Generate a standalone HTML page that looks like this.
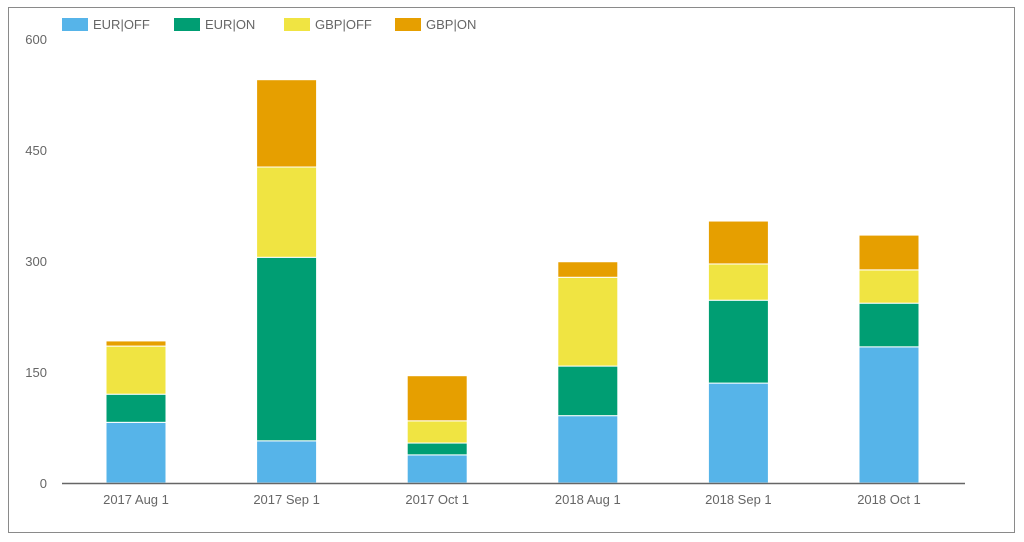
<!DOCTYPE html>
<html><head><meta charset="utf-8"><style>
body{margin:0;background:#fff;width:1024px;height:542px;overflow:hidden;font-family:"Liberation Sans",sans-serif}
#frame{position:absolute;left:8px;top:7px;width:1007px;height:526px;border:1px solid #8a8a8a;box-sizing:border-box}
</style></head><body>
<div id="frame"></div>
<svg id="chart" width="1024" height="542" style="position:absolute;left:0;top:0"></svg>
<script>
const categories=["2017 Aug 1","2017 Sep 1","2017 Oct 1","2018 Aug 1","2018 Sep 1","2018 Oct 1"];
const seriesNames=["EUR|OFF","EUR|ON","GBP|OFF","GBP|ON"];
const eurOff=[82,57,38,91,135,184];
const eurOn=[38,248,16,67,112,59];
const gbpOff=[65,122,30,120,49,45];
const gbpOn=[7,118,61,21,58,47];
const yTicks=[0,150,300,450,600];
const colors=["#56b4e9","#009e73","#f0e442","#e69f00"];
const svg=document.getElementById('chart');
const NS="http://www.w3.org/2000/svg";
const y=v=>483-v*(444/600);
const x=i=>136+i*150.6;
const bw=60;
function mk(t,a,p){const e=document.createElementNS(NS,t);for(const k in a)e.setAttribute(k,a[k]);(p||svg).appendChild(e);return e;}
yTicks.forEach(t=>{const e=mk('text',{x:47,y:y(t)+5,'text-anchor':'end','font-size':13,fill:'#666'});e.textContent=t;

});
const series=[eurOff,eurOn,gbpOff,gbpOn];
categories.forEach((c,i)=>{let base=0;series.forEach((s,j)=>{const r=mk('rect',{x:x(i)-bw/2,y:y(base+s[i]),width:bw,height:y(base)-y(base+s[i]),fill:colors[j],stroke:'#fff','stroke-width':1});


base+=s[i];});
const t=mk('text',{x:x(i),y:504,'text-anchor':'middle','font-size':13,fill:'#666'});t.textContent=c;

});
const ax=mk('line',{x1:62,x2:965,y1:483.5,y2:483.5,stroke:'#666','stroke-width':1.5});


const lx=[62,174,284,395];
seriesNames.forEach((n,j)=>{const g=mk('g',{});


mk('rect',{x:lx[j],y:18,width:26,height:13,fill:colors[j]},g);
const t=mk('text',{x:lx[j]+31,y:29,'font-size':13,fill:'#666'},g);t.textContent=n;});
</script>
</body></html>
